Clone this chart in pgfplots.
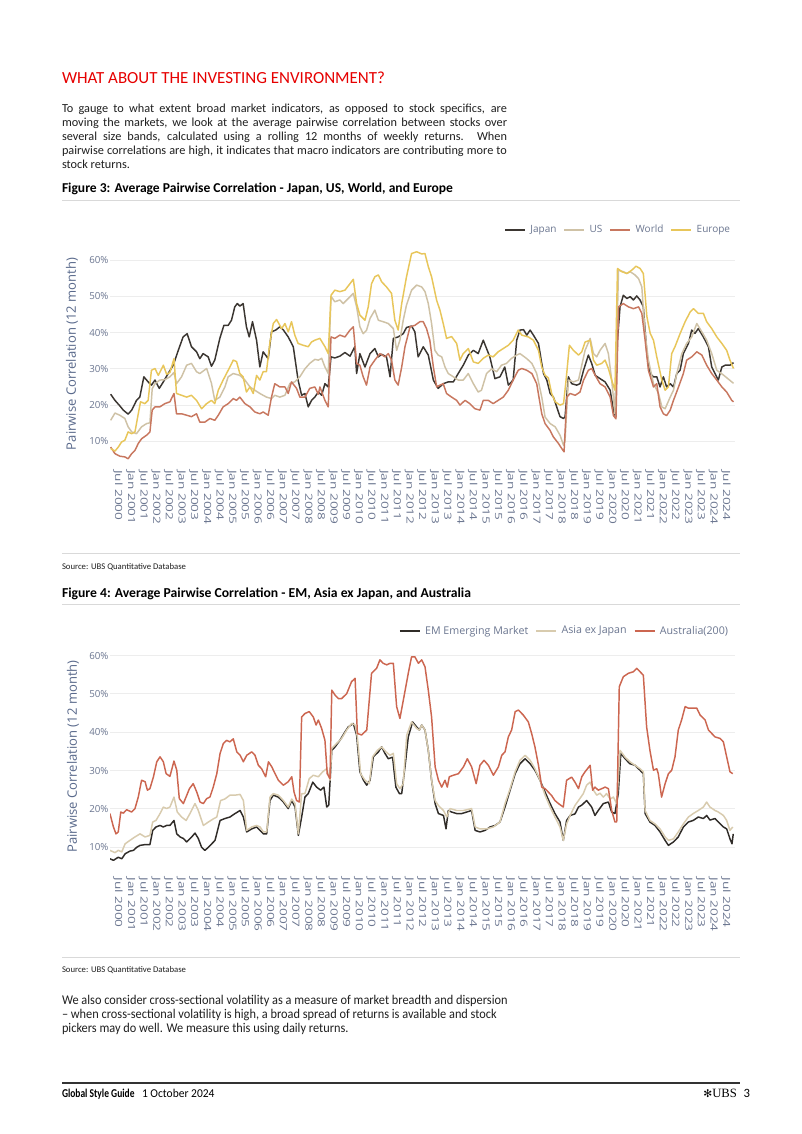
\documentclass[border=0pt]{standalone}
\usepackage{fontspec}
\setmainfont{Carlito}
\newfontfamily\chartfont{Open Sans}
\newfontfamily\symfont{DejaVu Sans}
\newfontfamily\logofont{Liberation Serif}
\usepackage{graphicx}
\usepackage{pgfplots}
\pgfplotsset{compat=1.18}

\definecolor{ubsred}{HTML}{E60000}
\definecolor{bodytext}{HTML}{1F1F1F}
\definecolor{rulegray}{HTML}{D9D9D9}
\definecolor{gridgray}{HTML}{EDEDED}
\definecolor{ticktext}{HTML}{6B7690}
\definecolor{labeltext}{HTML}{5A6A8C}
\definecolor{cJapan}{HTML}{3B3631}
\definecolor{cUS}{HTML}{CFC2A6}
\definecolor{cWorld}{HTML}{C8775F}
\definecolor{cEurope}{HTML}{E8C65A}
\definecolor{cEM}{HTML}{302C28}
\definecolor{cAsia}{HTML}{D8CBAE}
\definecolor{cAus}{HTML}{CC6650}

% x tick labels of the source are drawn tall and narrow
\newcommand{\xl}[1]{\scalebox{1.38}[1]{#1}}

\pgfplotsset{
  corrchart/.style={
    scale only axis,
    anchor=south west,
    width=468.75pt,
    xmin=2000.184, xmax=2024.859,
    ymin=4, ymax=63,
    axis line style={draw=none},
    tick style={draw=none},
    ymajorgrids,
    grid style={gridgray, line width=0.75pt},
    ytick={10,20,30,40,50,60},
    /pgf/number format/assume math mode=true,
    yticklabel={\pgfmathprintnumber{\tick}\%},
    yticklabel style={font=\chartfont\fontsize{7.3}{8}\selectfont, text=ticktext, inner sep=0pt, xshift=-1pt},
    xtick={2000.5,2001,...,2024.5},
    xticklabels={\xl{Jul 2000},\xl{Jan 2001},\xl{Jul 2001},\xl{Jan 2002},\xl{Jul 2002},\xl{Jan 2003},\xl{Jul 2003},\xl{Jan 2004},\xl{Jul 2004},\xl{Jan 2005},\xl{Jul 2005},\xl{Jan 2006},\xl{Jul 2006},\xl{Jan 2007},\xl{Jul 2007},\xl{Jan 2008},\xl{Jul 2008},\xl{Jan 2009},\xl{Jul 2009},\xl{Jan 2010},\xl{Jul 2010},\xl{Jan 2011},\xl{Jul 2011},\xl{Jan 2012},\xl{Jul 2012},\xl{Jan 2013},\xl{Jul 2013},\xl{Jan 2014},\xl{Jul 2014},\xl{Jan 2015},\xl{Jul 2015},\xl{Jan 2016},\xl{Jul 2016},\xl{Jan 2017},\xl{Jul 2017},\xl{Jan 2018},\xl{Jul 2018},\xl{Jan 2019},\xl{Jul 2019},\xl{Jan 2020},\xl{Jul 2020},\xl{Jan 2021},\xl{Jul 2021},\xl{Jan 2022},\xl{Jul 2022},\xl{Jan 2023},\xl{Jul 2023},\xl{Jan 2024},\xl{Jul 2024}},
    xticklabel shift=5.2pt,
    xticklabel style={rotate=-90, anchor=west, inner sep=0pt, font=\chartfont\fontsize{7.4}{9}\selectfont, text=ticktext},
    legend style={draw=none, fill=none, legend columns=-1, inner sep=0pt,
      font=\chartfont\fontsize{7.5}{9}\selectfont, text=ticktext,
      /tikz/every odd column/.append style={column sep=1.5pt},
      /tikz/every even column/.append style={column sep=3.3pt}},
    legend image code/.code={\draw[#1] (0pt,0pt) -- (15pt,0pt);},
    every axis plot/.append style={line width=1.1pt, line join=round},
  }
}

\begin{document}
\begin{tikzpicture}
\useasboundingbox (0pt,0pt) rectangle (601.5pt,-850.5pt);
\fill[white] (0pt,0pt) rectangle (601.5pt,-850.5pt);

\begin{scope}[x=0.75pt, y=-0.75pt, every node/.style={inner sep=0pt, outer sep=0pt}]
% heading and first paragraph
\node[anchor=base west, text=ubsred] at (62,84) {\resizebox{242.25pt}{!}{WHAT ABOUT THE INVESTING ENVIRONMENT?}};
\begin{scope}[every node/.append style={anchor=base west, text=bodytext, font=\fontsize{9.2}{11}\selectfont}]
\node at (62,113.0) {\makebox[333.75pt][s]{To gauge to what extent broad market indicators, as opposed to stock specifics, are}};
\node at (62,126.8) {\makebox[333.75pt][s]{moving the markets, we look at the average pairwise correlation between stocks over}};
\node at (62,140.6) {\makebox[333.75pt][s]{several size bands, calculated using a rolling 12 months of weekly returns. When}};
\node at (62,154.4) {\makebox[333.75pt][s]{pairwise correlations are high, it indicates that macro indicators are contributing more to}};
\node at (62,168.2) {stock returns.};
\end{scope}

% figure 3 header
\node[anchor=base west, text=black] at (62,192.5) {\resizebox{293.25pt}{!}{\bfseries Figure 3: Average Pairwise Correlation - Japan, US, World, and Europe}};
\draw[rulegray, line width=0.75pt] (62,201) -- (740,201);
\node[rotate=90, text=labeltext] at (72,354) {\resizebox{144pt}{!}{\chartfont Pairwise Correlation (12 month)}};
\draw[rulegray, line width=0.75pt] (62,553) -- (740,553);
\node[anchor=base west, text=bodytext] at (62,569) {\resizebox{93pt}{!}{Source: UBS Quantitative Database}};

% figure 4 header
\node[anchor=base west, text=black] at (62,597) {\resizebox{306.75pt}{!}{\bfseries Figure 4: Average Pairwise Correlation - EM, Asia ex Japan, and Australia}};
\draw[rulegray, line width=0.75pt] (62,604) -- (740,604);
\node[rotate=90, text=labeltext] at (73,756.5) {\resizebox{144pt}{!}{\chartfont Pairwise Correlation (12 month)}};
\draw[rulegray, line width=0.75pt] (62,957) -- (740,957);
\node[anchor=base west, text=bodytext] at (62,972) {\resizebox{93pt}{!}{Source: UBS Quantitative Database}};

% second paragraph
\begin{scope}[every node/.append style={anchor=base west, text=bodytext, font=\fontsize{10}{12}\selectfont}]
\node at (62,1004) {\scalebox{0.925}[1]{We also consider cross-sectional volatility as a measure of market breadth and dispersion}};
\node at (62,1018.3) {\scalebox{0.925}[1]{\textendash{} when cross-sectional volatility is high, a broad spread of returns is available and stock}};
\node at (62,1032.6) {\scalebox{0.925}[1]{pickers may do well. We measure this using daily returns.}};
\end{scope}

% footer
\draw[black!80, line width=0.9pt] (62,1083) -- (740,1083);
\node[anchor=base west, text=black] at (62,1097) {\scalebox{0.79}[1]{\fontsize{9}{11}\selectfont\bfseries Global Style Guide}};
\node[anchor=base west, text=black] at (142,1097) {\scalebox{0.96}[1]{\fontsize{9}{11}\selectfont 1 October 2024}};
\node[anchor=base east, text=black] at (750,1097) {{\symfont\fontsize{8}{9}\selectfont ✻}{\logofont\fontsize{9.5}{11}\selectfont UBS}\hspace{5pt}{\fontsize{9.5}{11}\selectfont 3}};
\end{scope}

% Figure 3 chart
\begin{axis}[corrchart,
  at={(82.5pt,-347.3pt)}, height=160.4pt,
  legend style={at={(1,1)}, anchor=east, xshift=-1.5pt, yshift=14.3pt}]
\addplot[cJapan] coordinates {
(2000.21,23.0)(2000.38,21.3)(2000.57,19.8)(2000.71,18.6)(2000.90,17.5)(2001.04,18.6)(2001.23,21.3)(2001.36,22.2)(2001.52,27.8)(2001.69,26.4)(2001.82,25.5)(2001.96,26.9)(2002.13,24.6)(2002.29,26.4)(2002.48,28.7)(2002.68,31.0)(2002.88,35.1)(2003.07,38.8)(2003.23,39.7)(2003.40,36.1)(2003.60,34.7)(2003.73,32.8)(2003.86,34.2)(2004.06,33.3)(2004.19,30.7)(2004.32,32.4)(2004.52,38.4)(2004.68,42.0)(2004.85,42.0)(2004.98,43.4)(2005.11,47.1)(2005.21,48.0)(2005.31,47.3)(2005.44,48.0)(2005.57,41.6)(2005.68,38.8)(2005.81,43.0)(2005.97,37.9)(2006.10,30.5)(2006.23,34.7)(2006.43,32.8)(2006.56,40.2)(2006.73,40.7)(2006.89,41.6)(2007.02,40.8)(2007.22,38.8)(2007.42,36.1)(2007.61,26.9)(2007.75,22.7)(2007.88,23.2)(2008.01,19.5)(2008.14,21.3)(2008.27,22.2)(2008.41,23.6)(2008.54,22.7)(2008.67,25.9)(2008.80,25.0)(2008.91,33.3)(2009.06,33.0)(2009.26,33.5)(2009.46,34.5)(2009.66,33.5)(2009.85,36.1)(2009.92,28.7)(2010.05,34.2)(2010.25,30.5)(2010.45,34.2)(2010.64,35.6)(2010.78,33.3)(2010.91,34.0)(2011.10,33.3)(2011.24,27.8)(2011.37,38.4)(2011.56,38.8)(2011.76,39.7)(2011.89,41.4)(2012.09,41.8)(2012.22,40.2)(2012.35,33.3)(2012.55,36.1)(2012.75,33.8)(2012.95,26.9)(2013.14,24.6)(2013.34,25.9)(2013.54,26.4)(2013.74,26.4)(2013.93,28.7)(2014.13,31.0)(2014.33,33.8)(2014.53,35.1)(2014.72,34.2)(2014.92,37.9)(2015.05,35.6)(2015.18,33.3)(2015.38,27.3)(2015.58,27.8)(2015.77,30.5)(2015.91,25.5)(2016.10,26.9)(2016.24,37.9)(2016.37,40.7)(2016.51,40.8)(2016.64,39.3)(2016.77,40.7)(2016.90,39.3)(2017.10,37.0)(2017.23,31.5)(2017.30,28.7)(2017.43,26.9)(2017.56,23.2)(2017.69,22.2)(2017.82,19.5)(2017.95,16.8)(2018.09,16.3)(2018.15,16.8)(2018.28,27.8)(2018.41,25.9)(2018.61,25.5)(2018.74,25.9)(2018.88,29.6)(2019.07,33.8)(2019.20,31.5)(2019.34,28.2)(2019.53,27.3)(2019.73,26.4)(2019.93,24.1)(2020.06,18.6)(2020.12,17.2)(2020.22,38.0)(2020.32,47.1)(2020.45,50.3)(2020.59,49.4)(2020.72,49.9)(2020.85,49.0)(2020.98,50.1)(2021.11,49.0)(2021.24,47.1)(2021.38,34.2)(2021.51,28.7)(2021.64,27.8)(2021.77,27.8)(2021.90,25.0)(2022.03,27.8)(2022.16,25.0)(2022.30,25.9)(2022.43,25.0)(2022.56,28.7)(2022.69,29.6)(2022.82,34.2)(2023.02,37.0)(2023.15,40.7)(2023.28,39.8)(2023.41,41.1)(2023.61,38.8)(2023.81,36.1)(2023.94,30.5)(2024.07,28.7)(2024.20,26.9)(2024.34,30.5)(2024.47,31.0)(2024.66,31.0)(2024.80,31.7)
};
\addlegendentry{Japan}
\addplot[cUS] coordinates {
(2000.21,15.8)(2000.38,17.8)(2000.57,17.2)(2000.77,16.3)(2000.90,14.0)(2001.04,12.6)(2001.23,12.1)(2001.43,14.0)(2001.63,14.9)(2001.76,15.1)(2001.85,24.5)(2001.96,25.9)(2002.15,26.9)(2002.35,27.0)(2002.55,27.8)(2002.71,29.0)(2002.81,25.9)(2003.01,27.8)(2003.21,31.0)(2003.40,31.5)(2003.60,29.2)(2003.73,28.7)(2004.00,30.1)(2004.19,26.0)(2004.32,21.3)(2004.52,22.2)(2004.72,25.0)(2004.85,27.8)(2005.05,28.7)(2005.31,28.2)(2005.51,26.9)(2005.71,25.0)(2005.90,24.1)(2006.10,23.2)(2006.36,22.2)(2006.56,21.8)(2006.69,22.7)(2006.89,22.2)(2007.09,22.7)(2007.29,26.0)(2007.48,26.4)(2007.68,27.8)(2007.88,30.0)(2008.07,31.5)(2008.27,32.6)(2008.41,32.4)(2008.54,32.9)(2008.67,30.5)(2008.80,28.7)(2008.91,50.0)(2009.06,48.5)(2009.26,49.0)(2009.39,48.0)(2009.59,49.4)(2009.79,50.8)(2009.92,47.1)(2010.05,41.6)(2010.18,39.7)(2010.31,40.6)(2010.45,43.9)(2010.64,46.2)(2010.78,43.4)(2010.97,43.0)(2011.17,42.5)(2011.37,41.1)(2011.50,35.1)(2011.63,37.9)(2011.76,43.4)(2011.89,47.6)(2012.09,51.7)(2012.29,53.1)(2012.49,52.6)(2012.62,51.3)(2012.75,48.0)(2012.88,42.5)(2013.01,35.1)(2013.14,33.8)(2013.28,33.3)(2013.41,30.5)(2013.54,28.7)(2013.74,27.8)(2013.93,26.9)(2014.13,26.9)(2014.33,28.7)(2014.53,25.9)(2014.72,23.6)(2014.85,24.1)(2015.05,28.7)(2015.25,30.0)(2015.45,29.2)(2015.64,31.0)(2015.84,31.5)(2016.04,32.9)(2016.24,33.8)(2016.37,34.2)(2016.64,32.8)(2016.84,31.5)(2017.03,28.7)(2017.23,22.2)(2017.36,16.7)(2017.56,14.9)(2017.76,14.0)(2017.95,11.7)(2018.09,8.9)(2018.15,10.3)(2018.28,26.9)(2018.48,26.4)(2018.68,26.9)(2018.81,31.0)(2018.94,35.1)(2019.14,38.4)(2019.27,34.2)(2019.40,33.3)(2019.53,35.1)(2019.73,37.0)(2019.86,34.2)(2019.99,26.9)(2020.12,17.6)(2020.26,57.2)(2020.45,56.8)(2020.59,56.3)(2020.72,56.8)(2020.91,55.9)(2021.05,54.9)(2021.18,52.6)(2021.31,39.7)(2021.44,32.4)(2021.64,25.9)(2021.84,23.2)(2021.97,19.5)(2022.10,19.0)(2022.30,22.2)(2022.43,24.1)(2022.56,28.7)(2022.76,34.2)(2022.95,37.0)(2023.15,38.8)(2023.35,42.5)(2023.55,40.2)(2023.74,37.9)(2023.94,34.2)(2024.14,29.6)(2024.40,28.3)(2024.80,26.0)
};
\addlegendentry{US}
\addplot[cWorld] coordinates {
(2000.21,8.4)(2000.38,6.6)(2000.57,5.9)(2000.77,5.7)(2000.90,5.2)(2001.04,6.6)(2001.17,7.5)(2001.30,9.4)(2001.43,10.7)(2001.63,11.7)(2001.76,12.6)(2001.85,18.6)(2001.96,19.5)(2002.15,19.5)(2002.35,20.4)(2002.55,20.9)(2002.71,23.2)(2002.81,17.6)(2003.01,17.6)(2003.21,17.2)(2003.40,16.8)(2003.60,17.6)(2003.73,15.3)(2003.93,15.3)(2004.13,16.3)(2004.32,15.8)(2004.46,17.2)(2004.65,19.5)(2004.85,20.4)(2005.05,21.8)(2005.18,21.3)(2005.31,22.2)(2005.51,20.4)(2005.71,19.5)(2005.90,18.1)(2006.10,17.6)(2006.23,18.1)(2006.43,17.2)(2006.56,22.2)(2006.69,25.9)(2006.89,25.0)(2007.09,25.0)(2007.22,23.2)(2007.35,26.4)(2007.55,24.6)(2007.68,22.2)(2007.88,22.2)(2008.07,24.6)(2008.27,25.0)(2008.41,23.0)(2008.47,25.0)(2008.67,21.3)(2008.80,19.5)(2008.91,38.8)(2009.06,38.4)(2009.26,39.3)(2009.46,38.8)(2009.66,40.7)(2009.79,41.6)(2009.92,31.5)(2010.05,31.0)(2010.18,27.8)(2010.31,25.5)(2010.45,30.5)(2010.64,32.4)(2010.84,34.2)(2011.04,33.3)(2011.17,34.2)(2011.30,32.4)(2011.43,26.9)(2011.56,25.5)(2011.70,30.5)(2011.83,36.1)(2012.03,41.6)(2012.22,42.0)(2012.42,43.0)(2012.55,43.0)(2012.68,41.1)(2012.81,37.9)(2012.95,30.5)(2013.08,25.0)(2013.21,25.5)(2013.34,25.9)(2013.47,23.2)(2013.67,22.2)(2013.87,21.3)(2014.00,20.0)(2014.20,21.3)(2014.39,20.4)(2014.59,19.0)(2014.79,18.6)(2014.92,21.3)(2015.12,21.3)(2015.31,20.4)(2015.51,21.3)(2015.71,22.2)(2015.91,24.1)(2016.10,26.9)(2016.30,29.6)(2016.44,30.1)(2016.64,29.6)(2016.84,28.7)(2017.03,25.9)(2017.23,17.6)(2017.36,14.9)(2017.56,13.0)(2017.69,11.2)(2017.89,9.4)(2018.02,8.0)(2018.11,7.1)(2018.22,22.2)(2018.35,23.2)(2018.55,22.7)(2018.74,23.6)(2018.88,26.9)(2019.07,29.6)(2019.20,30.1)(2019.34,28.2)(2019.53,25.9)(2019.73,25.0)(2019.93,22.2)(2020.06,17.1)(2020.16,16.2)(2020.26,47.1)(2020.45,48.0)(2020.65,47.1)(2020.85,46.6)(2021.05,47.1)(2021.18,45.3)(2021.31,37.9)(2021.44,29.6)(2021.64,25.0)(2021.77,25.9)(2021.90,19.5)(2022.03,17.6)(2022.16,17.1)(2022.30,18.6)(2022.43,21.3)(2022.63,25.0)(2022.82,28.7)(2022.95,32.4)(2023.15,33.3)(2023.35,34.7)(2023.55,33.8)(2023.74,31.0)(2023.94,28.7)(2024.14,26.9)(2024.34,25.0)(2024.53,23.6)(2024.73,21.3)(2024.80,20.9)
};
\addlegendentry{World}
\addplot[cEurope] coordinates {
(2000.21,8.0)(2000.38,7.3)(2000.51,8.4)(2000.64,9.8)(2000.77,10.3)(2000.90,12.6)(2001.04,12.1)(2001.17,12.6)(2001.30,17.6)(2001.39,20.9)(2001.56,20.4)(2001.69,21.3)(2001.82,29.6)(2001.96,30.1)(2002.09,28.2)(2002.29,31.0)(2002.42,28.5)(2002.55,29.0)(2002.71,32.8)(2002.81,23.2)(2003.01,22.7)(2003.21,22.2)(2003.40,22.7)(2003.60,21.3)(2003.80,19.0)(2004.00,20.4)(2004.19,21.3)(2004.32,20.4)(2004.46,24.1)(2004.65,26.9)(2004.85,29.6)(2005.05,32.4)(2005.18,32.0)(2005.31,28.7)(2005.44,27.8)(2005.57,23.6)(2005.71,25.0)(2005.84,23.2)(2005.97,28.2)(2006.10,26.9)(2006.23,29.2)(2006.36,29.2)(2006.50,37.4)(2006.63,42.5)(2006.76,43.6)(2006.96,41.1)(2007.09,42.5)(2007.22,40.2)(2007.35,43.0)(2007.48,39.3)(2007.61,37.0)(2007.81,36.5)(2008.01,36.1)(2008.14,37.4)(2008.27,37.9)(2008.47,38.4)(2008.67,36.1)(2008.80,34.2)(2008.91,50.3)(2009.06,51.7)(2009.26,51.3)(2009.46,51.7)(2009.66,53.5)(2009.79,54.7)(2009.92,48.0)(2010.05,44.8)(2010.25,43.4)(2010.38,47.1)(2010.51,53.5)(2010.64,55.4)(2010.78,55.9)(2010.91,54.0)(2011.10,52.6)(2011.30,50.8)(2011.43,43.4)(2011.56,40.7)(2011.70,48.0)(2011.89,55.4)(2012.09,61.8)(2012.29,62.3)(2012.49,61.7)(2012.62,61.8)(2012.75,58.2)(2012.88,55.4)(2013.08,48.9)(2013.21,46.2)(2013.34,42.5)(2013.47,38.4)(2013.67,38.9)(2013.87,37.0)(2014.00,32.4)(2014.13,34.2)(2014.33,35.6)(2014.53,31.9)(2014.72,31.5)(2014.92,32.9)(2015.12,33.8)(2015.31,33.3)(2015.51,34.7)(2015.71,35.6)(2015.91,36.5)(2016.10,37.9)(2016.30,40.7)(2016.44,39.3)(2016.70,38.8)(2016.90,37.9)(2017.10,35.1)(2017.23,30.5)(2017.36,28.2)(2017.49,27.5)(2017.62,23.2)(2017.76,20.9)(2017.95,20.0)(2018.09,20.4)(2018.19,26.9)(2018.32,36.5)(2018.48,35.1)(2018.68,33.8)(2018.81,34.7)(2018.94,37.4)(2019.14,37.9)(2019.27,32.4)(2019.40,31.0)(2019.60,31.5)(2019.73,32.4)(2019.86,30.1)(2019.99,26.9)(2020.12,24.1)(2020.22,57.7)(2020.39,56.8)(2020.59,56.3)(2020.78,57.2)(2020.95,58.3)(2021.11,57.7)(2021.24,56.3)(2021.38,44.4)(2021.51,39.8)(2021.64,37.9)(2021.77,33.3)(2021.97,26.9)(2022.10,24.1)(2022.23,25.0)(2022.36,34.2)(2022.49,36.1)(2022.69,39.7)(2022.89,43.0)(2023.09,45.7)(2023.22,46.6)(2023.41,45.3)(2023.61,45.3)(2023.74,43.0)(2023.94,41.1)(2024.14,38.8)(2024.34,37.0)(2024.53,35.1)(2024.66,32.4)(2024.80,30.1)
};
\addlegendentry{Europe}
\end{axis}

% Figure 4 chart
\begin{axis}[corrchart,
  at={(82.5pt,-652.7pt)}, height=169.6pt,
  legend style={at={(1,1)}, anchor=east, xshift=-3pt, yshift=9.9pt, font=\chartfont\fontsize{8}{9}\selectfont}]
\addplot[cEM] coordinates {
(2000.18,7.0)(2000.32,6.6)(2000.51,7.4)(2000.65,7.0)(2000.78,8.3)(2000.97,9.0)(2001.11,9.2)(2001.24,10.0)(2001.37,10.5)(2001.57,10.7)(2001.76,10.7)(2001.87,14.4)(2002.00,15.3)(2002.16,15.7)(2002.29,15.3)(2002.42,15.7)(2002.55,15.7)(2002.71,17.0)(2002.82,13.5)(2002.95,12.7)(2003.08,12.3)(2003.21,11.4)(2003.41,12.7)(2003.54,13.7)(2003.67,12.3)(2003.80,10.0)(2003.93,9.2)(2004.07,10.0)(2004.20,10.9)(2004.33,11.8)(2004.53,17.0)(2004.72,17.5)(2004.92,17.9)(2005.12,18.8)(2005.32,19.6)(2005.45,17.9)(2005.58,14.0)(2005.78,14.8)(2005.97,15.3)(2006.11,14.4)(2006.24,13.5)(2006.37,13.5)(2006.50,22.2)(2006.63,23.6)(2006.83,23.1)(2007.03,21.8)(2007.22,20.1)(2007.36,22.2)(2007.49,20.5)(2007.62,13.1)(2007.75,17.9)(2007.88,23.1)(2008.01,24.0)(2008.19,27.0)(2008.34,25.7)(2008.50,24.9)(2008.63,25.7)(2008.74,20.5)(2008.82,21.0)(2008.94,35.3)(2009.07,36.2)(2009.26,37.9)(2009.46,40.1)(2009.59,41.4)(2009.79,42.3)(2009.92,39.3)(2010.05,29.7)(2010.19,27.5)(2010.32,26.2)(2010.45,27.5)(2010.58,33.6)(2010.78,34.9)(2010.91,36.2)(2011.04,34.5)(2011.17,33.1)(2011.34,33.5)(2011.47,25.7)(2011.61,24.0)(2011.70,24.0)(2011.83,31.0)(2011.96,38.8)(2012.13,42.7)(2012.29,41.4)(2012.40,40.6)(2012.49,41.9)(2012.62,40.6)(2012.75,35.3)(2012.88,27.5)(2013.02,21.4)(2013.15,18.8)(2013.35,18.3)(2013.45,14.8)(2013.54,19.6)(2013.67,19.2)(2013.87,18.8)(2014.07,18.8)(2014.27,19.2)(2014.46,19.6)(2014.60,14.4)(2014.79,14.0)(2014.99,14.4)(2015.19,15.3)(2015.39,15.7)(2015.58,16.6)(2015.78,20.5)(2015.98,24.9)(2016.18,29.2)(2016.37,31.8)(2016.57,33.1)(2016.77,31.8)(2016.96,30.1)(2017.16,27.5)(2017.36,24.4)(2017.56,21.4)(2017.75,18.8)(2017.95,16.6)(2018.08,11.8)(2018.21,17.0)(2018.35,18.3)(2018.54,18.7)(2018.68,20.5)(2018.81,21.0)(2019.00,22.2)(2019.20,20.5)(2019.33,18.3)(2019.46,19.6)(2019.66,21.4)(2019.86,21.8)(2019.99,19.2)(2020.12,18.8)(2020.25,24.0)(2020.35,34.5)(2020.52,33.1)(2020.71,31.8)(2020.91,31.4)(2021.11,30.1)(2021.24,29.2)(2021.31,18.8)(2021.50,16.6)(2021.70,15.7)(2021.90,14.0)(2022.10,11.8)(2022.23,10.5)(2022.43,11.4)(2022.62,12.7)(2022.82,15.3)(2023.02,16.6)(2023.21,17.0)(2023.41,17.9)(2023.61,17.5)(2023.74,18.3)(2023.87,17.1)(2024.07,17.5)(2024.20,16.6)(2024.40,15.3)(2024.53,14.8)(2024.66,12.2)(2024.74,10.9)(2024.79,13.5)
};
\addlegendentry{EM Emerging Market}
\addplot[cAsia] coordinates {
(2000.18,9.2)(2000.38,8.6)(2000.51,9.2)(2000.65,8.8)(2000.78,10.9)(2000.97,11.8)(2001.17,12.7)(2001.37,13.5)(2001.57,12.7)(2001.76,13.1)(2001.87,16.6)(2002.00,17.0)(2002.16,18.8)(2002.29,20.5)(2002.42,20.1)(2002.55,20.5)(2002.71,23.1)(2002.84,19.2)(2003.01,17.9)(2003.19,17.0)(2003.34,18.8)(2003.54,21.4)(2003.67,19.6)(2003.87,15.7)(2004.07,16.6)(2004.26,17.4)(2004.40,17.9)(2004.55,22.2)(2004.72,22.6)(2004.92,23.6)(2005.12,23.6)(2005.32,23.8)(2005.45,22.2)(2005.58,14.4)(2005.78,15.3)(2005.97,15.7)(2006.11,15.3)(2006.24,14.0)(2006.37,14.0)(2006.50,23.1)(2006.63,24.0)(2006.83,23.6)(2007.03,22.2)(2007.22,20.5)(2007.36,22.6)(2007.49,21.4)(2007.62,13.5)(2007.75,24.0)(2007.88,24.0)(2008.05,27.9)(2008.21,28.8)(2008.41,28.4)(2008.58,29.7)(2008.74,30.5)(2008.87,27.5)(2008.94,35.8)(2009.13,37.1)(2009.33,38.4)(2009.53,40.6)(2009.72,42.3)(2009.86,41.9)(2009.95,38.8)(2010.08,29.2)(2010.25,27.5)(2010.42,26.6)(2010.55,33.6)(2010.74,35.3)(2010.91,36.2)(2011.08,34.9)(2011.24,34.0)(2011.37,34.5)(2011.50,26.6)(2011.63,25.3)(2011.76,26.6)(2011.90,39.3)(2012.09,42.7)(2012.29,41.0)(2012.40,40.6)(2012.49,41.9)(2012.62,40.6)(2012.75,35.3)(2012.88,27.5)(2013.02,22.2)(2013.15,20.9)(2013.35,19.6)(2013.48,17.9)(2013.61,20.1)(2013.87,19.6)(2014.14,19.6)(2014.46,20.1)(2014.60,15.3)(2014.79,14.8)(2015.06,14.8)(2015.32,15.3)(2015.58,16.6)(2015.78,21.4)(2015.98,25.3)(2016.18,29.7)(2016.37,32.7)(2016.57,34.0)(2016.77,32.7)(2016.96,30.5)(2017.16,27.5)(2017.36,23.6)(2017.56,20.5)(2017.75,17.9)(2017.95,15.3)(2018.08,11.8)(2018.21,16.1)(2018.35,18.3)(2018.54,20.9)(2018.68,22.2)(2018.87,24.0)(2019.00,26.2)(2019.14,27.0)(2019.27,24.9)(2019.40,23.6)(2019.53,24.1)(2019.66,23.1)(2019.79,24.0)(2019.93,22.6)(2020.06,23.1)(2020.19,21.4)(2020.32,35.3)(2020.52,33.5)(2020.71,32.3)(2020.91,31.4)(2021.11,30.5)(2021.24,29.7)(2021.31,19.6)(2021.50,17.0)(2021.70,16.1)(2021.90,14.8)(2022.10,12.7)(2022.23,11.8)(2022.43,12.2)(2022.62,14.0)(2022.82,16.1)(2023.02,17.9)(2023.21,18.8)(2023.41,19.6)(2023.61,20.5)(2023.74,21.8)(2023.87,20.5)(2024.07,19.6)(2024.20,19.2)(2024.40,18.3)(2024.53,17.0)(2024.66,14.4)(2024.77,15.3)
};
\addlegendentry{Asia ex Japan}
\addplot[cAus] coordinates {
(2000.18,18.8)(2000.32,15.3)(2000.42,13.5)(2000.51,14.0)(2000.61,19.2)(2000.71,18.9)(2000.84,19.8)(2001.04,19.2)(2001.17,20.1)(2001.30,23.1)(2001.43,27.5)(2001.57,27.1)(2001.66,24.9)(2001.76,25.3)(2001.90,28.4)(2002.03,32.3)(2002.16,33.6)(2002.29,32.3)(2002.40,29.2)(2002.55,28.5)(2002.71,32.5)(2002.82,30.1)(2002.92,22.7)(2003.08,21.4)(2003.21,23.5)(2003.32,25.3)(2003.47,26.6)(2003.61,24.4)(2003.74,21.8)(2003.87,21.4)(2004.00,22.7)(2004.13,23.1)(2004.26,25.7)(2004.40,29.2)(2004.53,34.5)(2004.66,37.1)(2004.79,37.9)(2004.92,37.5)(2005.05,38.3)(2005.19,34.9)(2005.32,34.0)(2005.45,32.3)(2005.58,34.0)(2005.78,34.9)(2005.91,34.0)(2006.04,31.4)(2006.17,30.5)(2006.33,28.4)(2006.44,32.3)(2006.57,31.0)(2006.70,29.2)(2006.83,27.5)(2007.03,26.2)(2007.22,27.1)(2007.36,28.4)(2007.45,24.4)(2007.55,22.2)(2007.66,21.8)(2007.75,44.0)(2007.88,44.9)(2008.05,45.4)(2008.21,44.0)(2008.32,41.9)(2008.41,43.2)(2008.54,41.0)(2008.67,37.9)(2008.76,29.2)(2008.87,27.9)(2008.94,51.0)(2009.07,49.7)(2009.20,48.8)(2009.33,48.8)(2009.53,50.1)(2009.72,53.2)(2009.86,54.1)(2009.95,39.7)(2010.12,39.3)(2010.32,40.6)(2010.51,55.4)(2010.71,56.7)(2010.84,58.9)(2010.97,58.0)(2011.11,57.6)(2011.24,58.0)(2011.37,58.0)(2011.50,46.7)(2011.63,43.6)(2011.79,49.3)(2011.96,55.4)(2012.09,59.7)(2012.22,59.7)(2012.36,58.0)(2012.49,58.9)(2012.62,57.1)(2012.75,51.0)(2012.88,44.0)(2013.02,31.0)(2013.15,27.5)(2013.28,25.7)(2013.41,27.5)(2013.50,25.7)(2013.58,28.4)(2013.74,28.8)(2013.94,29.2)(2014.14,31.0)(2014.29,33.1)(2014.46,31.0)(2014.64,26.6)(2014.79,31.4)(2014.95,32.7)(2015.12,31.4)(2015.32,28.8)(2015.52,31.0)(2015.65,34.0)(2015.78,34.9)(2015.91,38.8)(2016.04,40.6)(2016.18,45.4)(2016.31,45.8)(2016.50,44.5)(2016.70,42.7)(2016.83,39.7)(2016.96,36.2)(2017.10,31.4)(2017.23,25.7)(2017.36,25.3)(2017.49,24.4)(2017.62,23.5)(2017.75,22.2)(2017.89,21.4)(2018.08,20.5)(2018.21,27.5)(2018.41,28.3)(2018.54,27.0)(2018.68,25.3)(2018.81,28.4)(2018.94,29.7)(2019.14,31.4)(2019.24,24.9)(2019.33,25.7)(2019.46,24.9)(2019.60,25.3)(2019.73,25.7)(2019.86,25.3)(2019.99,19.6)(2020.12,16.6)(2020.19,16.6)(2020.29,51.9)(2020.45,54.5)(2020.65,55.4)(2020.85,55.8)(2020.98,56.7)(2021.11,55.8)(2021.24,54.9)(2021.37,41.4)(2021.50,35.3)(2021.64,30.1)(2021.77,30.5)(2021.83,29.2)(2021.96,23.1)(2022.10,26.6)(2022.23,29.2)(2022.36,30.1)(2022.49,33.6)(2022.62,40.6)(2022.75,43.2)(2022.89,46.7)(2023.02,46.3)(2023.15,46.3)(2023.35,46.3)(2023.48,44.5)(2023.68,43.2)(2023.81,40.6)(2023.94,39.7)(2024.07,38.8)(2024.27,38.4)(2024.40,37.5)(2024.53,33.6)(2024.66,29.7)(2024.77,29.2)
};
\addlegendentry{Australia(200)}
\end{axis}
\end{tikzpicture}
\end{document}
